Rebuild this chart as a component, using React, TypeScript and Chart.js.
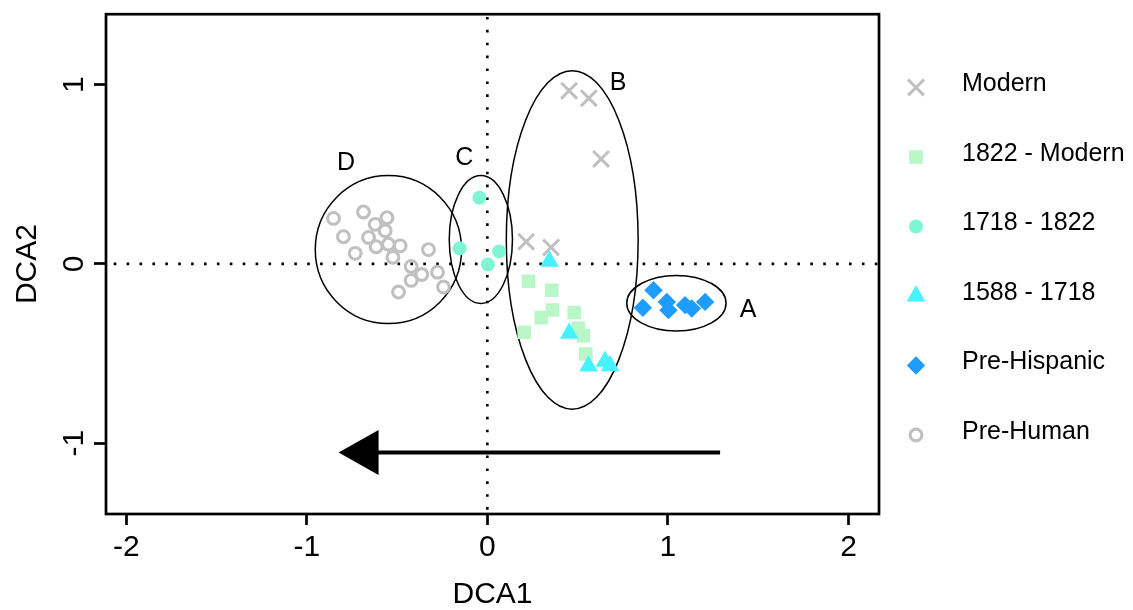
import React, { useEffect, useRef } from 'react';
import { Chart, registerables } from 'chart.js';

Chart.register(...registerables);

const FONT = '"Liberation Sans", Arial, Helvetica, sans-serif';

// ---------- data ----------
const seriesNames = ['Modern', '1822 - Modern', '1718 - 1822', '1588 - 1718', 'Pre-Hispanic', 'Pre-Human'];

const modernPts: number[][] = [
  [0.453, 0.967], [0.562, 0.925], [0.630, 0.586], [0.215, 0.124], [0.353, 0.092],
];
const p1822ModernPts: number[][] = [
  [0.228, -0.097], [0.357, -0.147], [0.360, -0.257], [0.298, -0.300], [0.481, -0.271],
  [0.204, -0.381], [0.504, -0.359], [0.532, -0.401], [0.545, -0.503],
];
const p1718to1822Pts: number[][] = [
  [-0.044, 0.369], [-0.154, 0.087], [0.065, 0.070], [0.003, -0.003],
];
const p1588to1718Pts: number[][] = [
  [0.344, 0.015], [0.453, -0.387], [0.560, -0.571], [0.652, -0.544], [0.680, -0.569],
];
const preHispanicPts: number[][] = [
  [0.920, -0.147], [0.861, -0.245], [0.994, -0.212], [1.003, -0.258],
  [1.095, -0.230], [1.132, -0.249], [1.206, -0.212],
];
const preHumanPts: number[][] = [
  [-0.852, 0.254], [-0.686, 0.290], [-0.556, 0.258], [-0.621, 0.221], [-0.566, 0.185],
  [-0.797, 0.152], [-0.658, 0.148], [-0.616, 0.096], [-0.548, 0.110], [-0.483, 0.101],
  [-0.732, 0.059], [-0.523, 0.037], [-0.326, 0.080], [-0.422, -0.014], [-0.363, -0.059],
  [-0.276, -0.046], [-0.422, -0.092], [-0.243, -0.129], [-0.492, -0.157],
];

const xTicks = [-2, -1, 0, 1, 2];
const yTicks = [-1, 0, 1];
const xRange = [-2.112, 2.169];
const yRange = [-1.396, 1.394];

// cluster ellipses (centre and semi-axes in data units)
const ellipseNames = ['A', 'B', 'C', 'D'];
const ellipseCenters: number[][] = [[1.047, -0.219], [0.470, 0.134], [-0.036, 0.136], [-0.548, 0.080]];
const ellipseRadii: number[][] = [[0.275, 0.155], [0.365, 0.945], [0.175, 0.357], [0.405, 0.413]];
const ellipseLabelPos: number[][] = [[1.444, -0.256], [0.724, 1.009], [-0.128, 0.589], [-0.782, 0.562]];

// arrow (data units)
const arrowStart = [1.289, -1.053];
const arrowEnd = [-0.824, -1.053];

// ---------- styles ----------
const seriesStyles = ['crossRot', 'rect', 'circle', 'triangle', 'rectRot', 'circle'];
const seriesColors = ['#c0c0c0', '#b9f6c8', '#7ff5d6', '#44f3ff', '#1e9cff', '#c0c0c0'];
const seriesRadius = [11.2, 9.6, 7, 10.8, 9.2, 5.9];
const seriesFilled = [false, true, true, true, true, false];
const seriesBorder = [3, 0, 0, 0, 0, 3.1];
const seriesOrder = [5, 4, 3, 1, 2, 6];
const seriesData = [modernPts, p1822ModernPts, p1718to1822Pts, p1588to1718Pts, preHispanicPts, preHumanPts];

function drawMarker(ctx: CanvasRenderingContext2D, i: number, x: number, y: number) {
  const r = seriesRadius[i];
  const style = seriesStyles[i];
  const col = seriesColors[i];
  ctx.save();
  ctx.beginPath();
  if (style === 'crossRot') {
    const d = r * Math.SQRT1_2;
    ctx.moveTo(x - d, y - d); ctx.lineTo(x + d, y + d);
    ctx.moveTo(x - d, y + d); ctx.lineTo(x + d, y - d);
  } else if (style === 'rect') {
    const s = r * Math.SQRT1_2;
    ctx.rect(x - s, y - s, 2 * s, 2 * s);
  } else if (style === 'circle') {
    ctx.arc(x, y, r, 0, Math.PI * 2);
  } else if (style === 'triangle') {
    ctx.moveTo(x, y - r);
    ctx.lineTo(x + r * 0.866, y + r / 2);
    ctx.lineTo(x - r * 0.866, y + r / 2);
    ctx.closePath();
  } else if (style === 'rectRot') {
    ctx.moveTo(x, y - r); ctx.lineTo(x + r, y); ctx.lineTo(x, y + r); ctx.lineTo(x - r, y);
    ctx.closePath();
  }
  if (seriesFilled[i]) {
    ctx.fillStyle = col;
    ctx.fill();
  } else {
    ctx.strokeStyle = col;
    ctx.lineWidth = seriesBorder[i];
    ctx.stroke();
  }
  ctx.restore();
}

const overlayPlugin = {
  id: 'overlay',
  beforeDatasetsDraw(chart: any) {
    const { ctx, chartArea: a, scales } = chart;
    const xs = scales.x, ys = scales.y;
    ctx.save();
    // dotted zero lines
    ctx.strokeStyle = '#000';
    ctx.lineWidth = 2.6;
    ctx.setLineDash([2.6, 10.3]);
    const x0 = xs.getPixelForValue(0);
    const y0 = ys.getPixelForValue(0);
    ctx.beginPath(); ctx.moveTo(x0, a.top + 2.7); ctx.lineTo(x0, a.bottom); ctx.stroke();
    ctx.beginPath(); ctx.moveTo(a.left + 7.7, y0); ctx.lineTo(a.right, y0); ctx.stroke();
    ctx.setLineDash([]);
    // ellipses
    ctx.lineWidth = 1.5;
    ellipseCenters.forEach((c, i) => {
      const cx = xs.getPixelForValue(c[0]);
      const cy = ys.getPixelForValue(c[1]);
      const rx = Math.abs(xs.getPixelForValue(c[0] + ellipseRadii[i][0]) - cx);
      const ry = Math.abs(ys.getPixelForValue(c[1] + ellipseRadii[i][1]) - cy);
      ctx.beginPath();
      ctx.ellipse(cx, cy, rx, ry, 0, 0, Math.PI * 2);
      ctx.stroke();
    });
    ctx.restore();
  },
  afterDatasetsDraw(chart: any) {
    const { ctx, chartArea: a, scales } = chart;
    const xs = scales.x, ys = scales.y;
    ctx.save();
    // labels
    ctx.fillStyle = '#000';
    ctx.font = `25px ${FONT}`;
    ctx.textAlign = 'center';
    ctx.textBaseline = 'middle';
    ellipseLabelPos.forEach((p, i) => {
      ctx.fillText(ellipseNames[i], xs.getPixelForValue(p[0]), ys.getPixelForValue(p[1]));
    });
    // arrow
    const ax0 = xs.getPixelForValue(arrowStart[0]);
    const ay = ys.getPixelForValue(arrowStart[1]);
    const ax1 = xs.getPixelForValue(arrowEnd[0]);
    const headLen = 40, headHalf = 22.5;
    ctx.strokeStyle = '#000';
    ctx.lineWidth = 4;
    ctx.beginPath(); ctx.moveTo(ax0, ay); ctx.lineTo(ax1 + headLen - 2, ay); ctx.stroke();
    ctx.beginPath();
    ctx.moveTo(ax1, ay);
    ctx.lineTo(ax1 + headLen, ay - headHalf);
    ctx.lineTo(ax1 + headLen, ay + headHalf);
    ctx.closePath();
    ctx.fill();
    // box
    ctx.lineWidth = 2.7;
    ctx.strokeRect(a.left, a.top, a.right - a.left, a.bottom - a.top);
    ctx.restore();
  },
  afterDraw(chart: any) {
    const { ctx } = chart;
    ctx.save();
    const symX = 916, textX = 962, top = 84.5, step = 69.5;
    ctx.font = `25px ${FONT}`;
    ctx.fillStyle = '#000';
    ctx.textAlign = 'left';
    ctx.textBaseline = 'middle';
    seriesNames.forEach((n, i) => {
      const yy = top + i * step;
      drawMarker(ctx, i, symX, yy + 3);
      ctx.fillText(n, textX, yy);
    });
    ctx.restore();
  },
};

export default function App() {
  const ref = useRef<HTMLCanvasElement | null>(null);
  useEffect(() => {
    document.body.style.margin = '0';
    const canvas = ref.current;
    if (!canvas) return;
    const datasets = seriesData.map((pts, i) => ({
      label: seriesNames[i],
      data: pts.map((p) => ({ x: p[0], y: p[1] })),
      pointStyle: seriesStyles[i] as any,
      pointRadius: seriesRadius[i],
      pointHoverRadius: seriesRadius[i],
      backgroundColor: seriesFilled[i] ? seriesColors[i] : 'rgba(0,0,0,0)',
      borderColor: seriesColors[i],
      pointBorderWidth: seriesBorder[i],
      borderWidth: seriesBorder[i],
      order: seriesOrder[i],
      showLine: false,
    }));
    const tickFont = { family: FONT, size: 30 };
    const titleFont = { family: FONT, size: 30, lineHeight: 1 };
    const chart = new Chart(canvas, {
      type: 'scatter',
      data: { datasets },
      options: {
        animation: false,
        responsive: false,
        devicePixelRatio: 1,
        events: [],
        layout: { padding: { left: 0, right: 254, top: 9, bottom: 0 } },
        plugins: { legend: { display: false }, tooltip: { enabled: false } },
        scales: {
          x: {
            type: 'linear',
            position: 'bottom',
            min: xRange[0],
            max: xRange[1],
            afterBuildTicks: (s: any) => { s.ticks = xTicks.map((v) => ({ value: v })); },
            afterFit: (s: any) => { s.height = 96; s.paddingLeft = 0; s.paddingRight = 0; },
            ticks: { font: tickFont, color: '#000', padding: 5, autoSkip: false, maxRotation: 0, minRotation: 0, callback: (v: any) => String(v) },
            grid: { display: true, drawOnChartArea: false, drawTicks: true, tickLength: 11, tickWidth: 2.7, tickColor: '#000' },
            border: { display: false },
            title: { display: true, text: 'DCA1', font: titleFont, color: '#000', padding: 0 },
          },
          y: {
            type: 'linear',
            position: 'left',
            min: yRange[0],
            max: yRange[1],
            afterBuildTicks: (s: any) => { s.ticks = yTicks.map((v) => ({ value: v })); },
            afterFit: (s: any) => { s.width = 106; s.paddingTop = 0; s.paddingBottom = 0; },
            ticks: { font: tickFont, color: '#000', padding: 6, autoSkip: false, minRotation: 90, maxRotation: 90, crossAlign: 'center', callback: (v: any) => String(v) },
            grid: { display: true, drawOnChartArea: false, drawTicks: true, tickLength: 12, tickWidth: 2.7, tickColor: '#000' },
            border: { display: false },
            title: { display: true, text: 'DCA2', font: titleFont, color: '#000', padding: { top: 13, bottom: 0 } },
          },
        },
      },
      plugins: [overlayPlugin],
    });
    return () => chart.destroy();
  }, []);
  return (
    <div style={{ position: 'absolute', left: 0, top: 0, width: 1133, height: 610, background: '#fff' }}>
      <canvas ref={ref} width={1133} height={610} style={{ display: 'block', width: 1133, height: 610 }} />
    </div>
  );
}
